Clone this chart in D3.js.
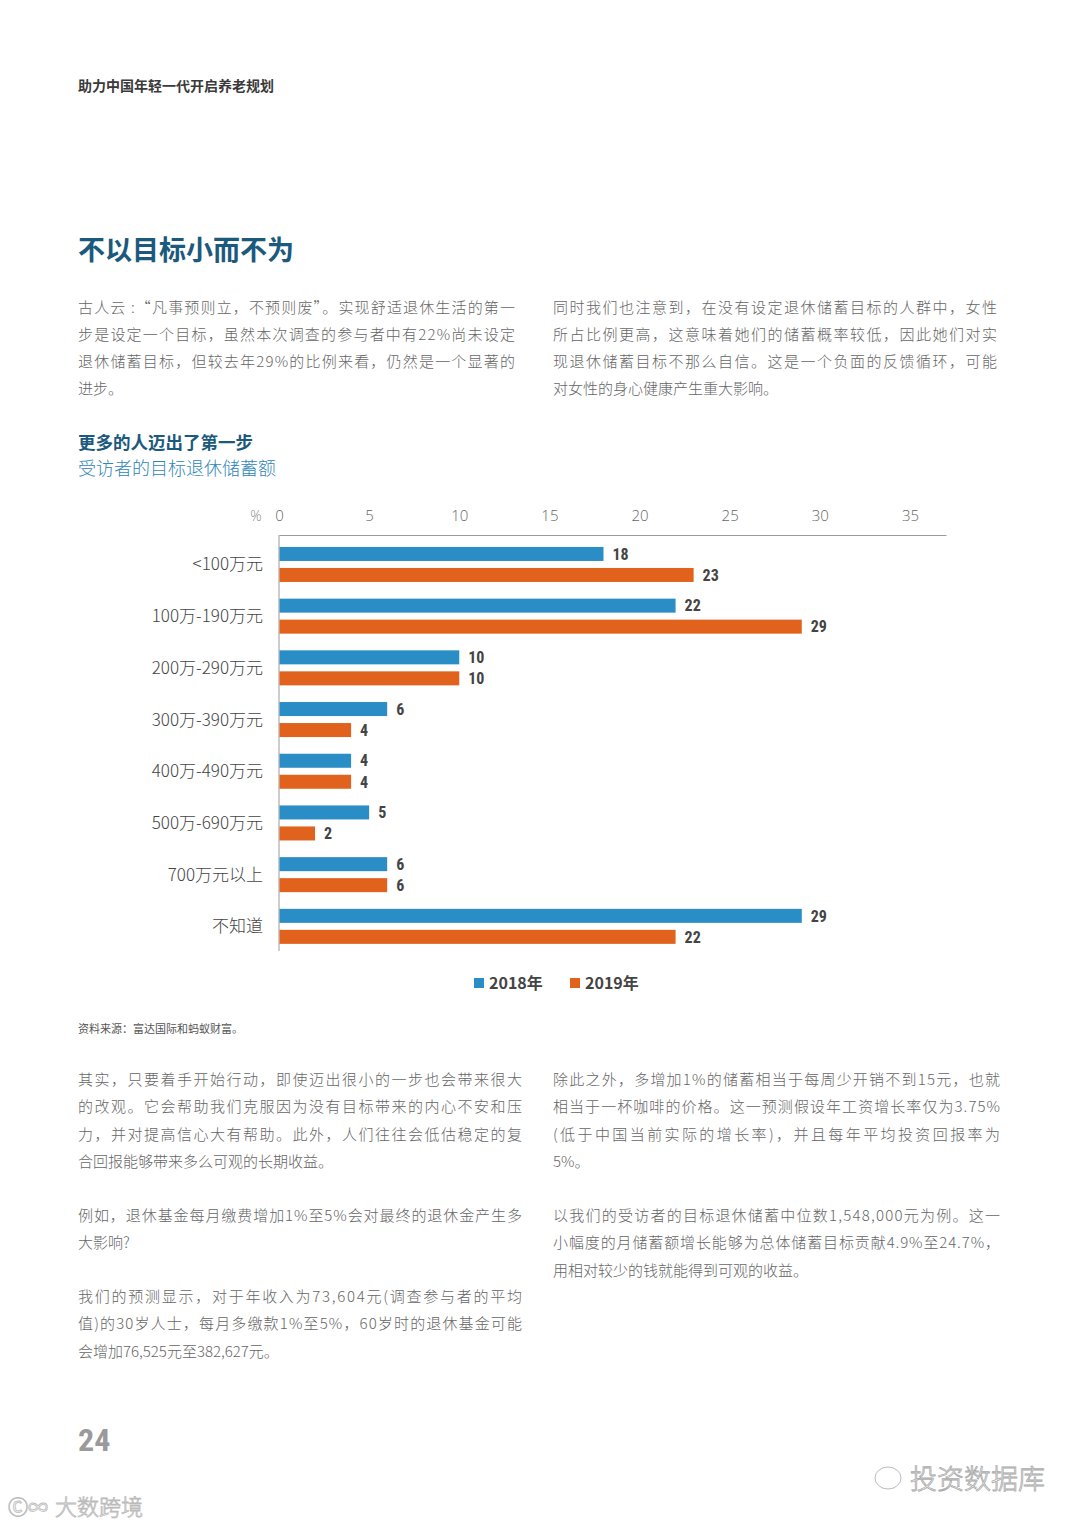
<!DOCTYPE html>
<html>
<head>
<meta charset="utf-8">
<script src="https://cdn.jsdelivr.net/npm/d3@7"></script>
<style>
  html, body { margin: 0; padding: 0; background: #fff; }
  svg { display: block; }
</style>
</head>
<body>
<svg id="page" width="1080" height="1527"></svg>
<script>
// ---------- data ----------
const categories = ["<100万元", "100万-190万元", "200万-290万元", "300万-390万元", "400万-490万元", "500万-690万元", "700万元以上", "不知道"];
const values2018 = [18, 22, 10, 6, 4, 5, 6, 29];
const values2019 = [23, 29, 10, 4, 4, 2, 6, 22];
const seriesNames = ["2018年", "2019年"];
const tickValues = [0, 5, 10, 15, 20, 25, 30, 35];

const headerText = "助力中国年轻一代开启养老规划";
const titleText = "不以目标小而不为";
const introLeft = [
  "古人云 :“凡事预则立，不预则废”。实现舒适退休生活的第一",
  "步是设定一个目标，虽然本次调查的参与者中有22%尚未设定",
  "退休储蓄目标，但较去年29%的比例来看，仍然是一个显著的",
  "进步。"
];
const introRight = [
  "同时我们也注意到，在没有设定退休储蓄目标的人群中，女性",
  "所占比例更高，这意味着她们的储蓄概率较低，因此她们对实",
  "现退休储蓄目标不那么自信。这是一个负面的反馈循环，可能",
  "对女性的身心健康产生重大影响。"
];
const chartTitle = "更多的人迈出了第一步";
const chartSubtitle = "受访者的目标退休储蓄额";
const sourceText = "资料来源：富达国际和蚂蚁财富。";
const bodyLeft = [
  ["其实，只要着手开始行动，即使迈出很小的一步也会带来很大",
   "的改观。它会帮助我们克服因为没有目标带来的内心不安和压",
   "力，并对提高信心大有帮助。此外，人们往往会低估稳定的复",
   "合回报能够带来多么可观的长期收益。"],
  ["例如，退休基金每月缴费增加1%至5%会对最终的退休金产生多",
   "大影响?"],
  ["我们的预测显示，对于年收入为73,604元(调查参与者的平均",
   "值)的30岁人士，每月多缴款1%至5%，60岁时的退休基金可能",
   "会增加76,525元至382,627元。"]
];
const bodyRight = [
  ["除此之外，多增加1%的储蓄相当于每周少开销不到15元，也就",
   "相当于一杯咖啡的价格。这一预测假设年工资增长率仅为3.75%",
   "(低于中国当前实际的增长率)，并且每年平均投资回报率为",
   "5%。"],
  ["以我们的受访者的目标退休储蓄中位数1,548,000元为例。这一",
   "小幅度的月储蓄额增长能够为总体储蓄目标贡献4.9%至24.7%，",
   "用相对较少的钱就能得到可观的收益。"]
];
const pageNumber = "24";

// ---------- style ----------
const colors = ["#2a8dc5", "#e1621c"];
const darkBlue = "#1b5a7d";
const textGray = "#666";
const cjk = '"Noto Sans CJK SC", "Noto Sans", sans-serif';
const numFont = '"Liberation Sans Narrow", "Roboto Condensed", Roboto, sans-serif';

const svg = d3.select("#page");

// header
svg.append("text").attr("x", 78).attr("y", 91)
  .attr("font-family", cjk).attr("font-size", 14).attr("font-weight", 700)
  .attr("fill", "#3a3a3a").text(headerText);

// title
svg.append("text").attr("x", 78).attr("y", 260)
  .attr("font-family", cjk).attr("font-size", 27).attr("font-weight", 700)
  .attr("fill", darkBlue).text(titleText);

function paragraph(lines, x, y0, lh, width) {
  lines.forEach((ln, i) => {
    const t = svg.append("text").attr("x", x).attr("y", y0 + i * lh)
      .attr("font-family", cjk).attr("font-size", 15).attr("font-weight", 300)
      .attr("fill", textGray).text(ln);
    if (i < lines.length - 1) {
      t.attr("textLength", width).attr("lengthAdjust", "spacing");
    }
  });
}
paragraph(introLeft, 78, 313, 27, 437);
paragraph(introRight, 553, 313, 27, 444);

// chart title / subtitle
svg.append("text").attr("x", 78).attr("y", 449)
  .attr("font-family", cjk).attr("font-size", 17.5).attr("font-weight", 700)
  .attr("fill", darkBlue).text(chartTitle);
svg.append("text").attr("x", 78).attr("y", 475)
  .attr("font-family", cjk).attr("font-size", 18).attr("font-weight", 300)
  .attr("fill", "#2f86b8").text(chartSubtitle);

// ---------- chart ----------
const x = d3.scaleLinear().domain([0, 37]).range([279, 946]);
const y = d3.scaleBand().domain(categories).range([538.6, 952.2]).padding(0);
const inner = d3.scaleBand().domain(seriesNames).range([0, y.bandwidth()]).paddingInner(0.333).paddingOuter(0.397);

const axisTop = d3.axisTop(x).tickValues(tickValues).tickSize(0).tickSizeOuter(0).tickPadding(14);
const gx = svg.append("g").attr("transform", "translate(0,535)").call(axisTop);
gx.select(".domain").attr("stroke", "#9a9a9a").attr("stroke-width", 1);
gx.selectAll("text").attr("font-family", '"Open Sans", Lato, sans-serif')
  .attr("font-weight", 300).attr("font-size", 15).attr("fill", textGray);
svg.append("text").attr("x", 256).attr("y", 521)
  .attr("font-family", '"Open Sans", Lato, sans-serif').attr("font-weight", 300)
  .attr("font-size", 14).attr("fill", "#888").attr("text-anchor", "middle").text("%");

// left axis line
svg.append("line").attr("x1", 279).attr("x2", 279).attr("y1", 535).attr("y2", 951)
  .attr("stroke", "#9a9a9a").attr("stroke-width", 1);

// category labels
svg.append("g").selectAll("text").data(categories).join("text")
  .attr("x", 263).attr("y", d => y(d) + y.bandwidth() / 2)
  .attr("dy", "0.35em").attr("text-anchor", "end")
  .attr("font-family", cjk).attr("font-size", 17).attr("font-weight", 300)
  .attr("fill", "#444").text(d => d);

const rows = categories.map((c, i) => ({ cat: c, vals: [values2018[i], values2019[i]] }));
const groups = svg.append("g").selectAll("g").data(rows).join("g")
  .attr("transform", d => `translate(0,${y(d.cat)})`);

groups.selectAll("rect").data(d => d.vals.map((v, j) => ({ v, s: seriesNames[j], j }))).join("rect")
  .attr("x", x(0) + 0.5).attr("y", d => inner(d.s))
  .attr("width", d => x(d.v) - x(0) - 0.5).attr("height", inner.bandwidth())
  .attr("fill", d => colors[d.j]);

groups.selectAll("text").data(d => d.vals.map((v, j) => ({ v, s: seriesNames[j], j }))).join("text")
  .attr("x", d => x(d.v) + 9).attr("y", d => inner(d.s) + inner.bandwidth() / 2)
  .attr("dy", "0.36em")
  .attr("font-family", numFont).attr("font-weight", 700).attr("font-size", 16)
  .attr("fill", "#444").text(d => d.v);

// legend
const legendX = [474, 570];
seriesNames.forEach((s, i) => {
  svg.append("rect").attr("x", legendX[i]).attr("y", 978).attr("width", 10).attr("height", 10)
    .attr("fill", colors[i]);
  svg.append("text").attr("x", legendX[i] + 15).attr("y", 989)
    .attr("font-family", '"Noto Sans CJK SC", Roboto, sans-serif').attr("font-weight", 700)
    .attr("font-size", 16).attr("fill", "#444").text(s);
});

// source
svg.append("text").attr("x", 78).attr("y", 1033)
  .attr("font-family", cjk).attr("font-size", 11).attr("font-weight", 400)
  .attr("fill", "#555").text(sourceText);

// body paragraphs
const leftStarts = [1085, 1221, 1302];
bodyLeft.forEach((p, k) => paragraph(p, 78, leftStarts[k], 27.3, 444));
const rightStarts = [1085, 1221];
bodyRight.forEach((p, k) => paragraph(p, 553, rightStarts[k], 27.3, 447));

// page number
svg.append("text").attr("x", 78).attr("y", 1451)
  .attr("font-family", numFont).attr("font-weight", 700).attr("font-size", 32)
  .attr("fill", "#9a9a9a").text(pageNumber);

// watermarks
svg.append("text").attr("x", 910).attr("y", 1489)
  .attr("font-family", cjk).attr("font-size", 27).attr("font-weight", 300)
  .attr("fill", "none").attr("stroke", "#aaa").attr("stroke-width", 0.8).text("投资数据库");
svg.append("ellipse").attr("cx", 888).attr("cy", 1478).attr("rx", 13).attr("ry", 11)
  .attr("fill", "none").attr("stroke", "#bbb").attr("stroke-width", 1);
svg.append("text").attr("x", 55).attr("y", 1515)
  .attr("font-family", cjk).attr("font-size", 22).attr("font-weight", 300)
  .attr("fill", "none").attr("stroke", "#bbb").attr("stroke-width", 0.8).text("大数跨境");
svg.append("text").attr("x", 8).attr("y", 1515)
  .attr("font-family", cjk).attr("font-size", 20)
  .attr("fill", "none").attr("stroke", "#bbb").attr("stroke-width", 0.8).text("Ⓒ∞");
</script>
</body>
</html>
